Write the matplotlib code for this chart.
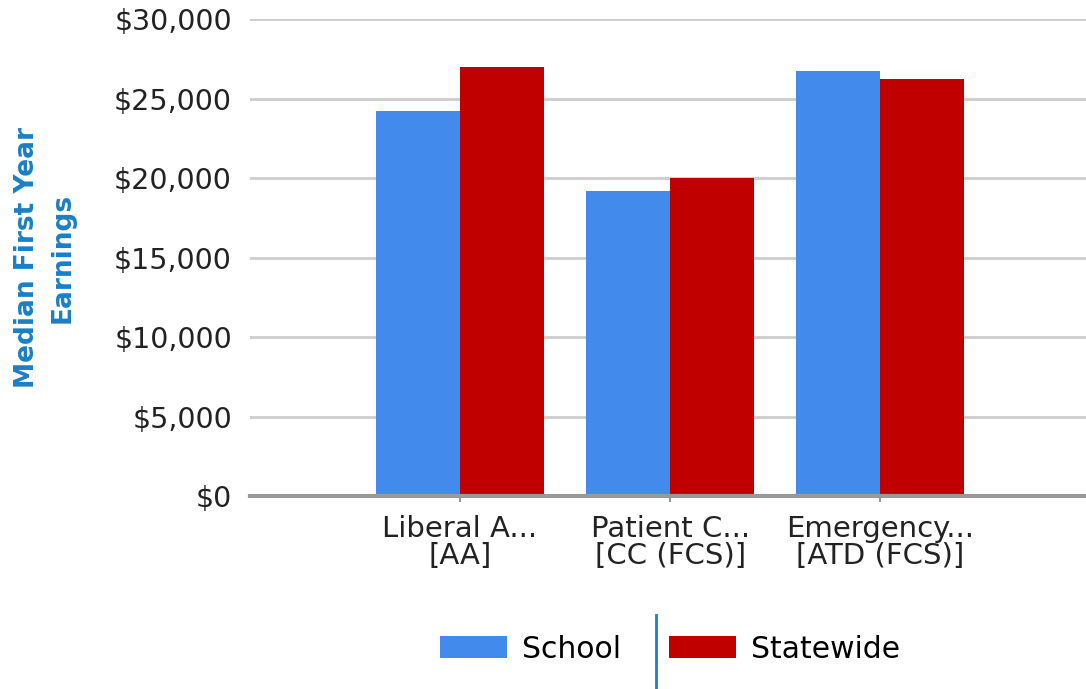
"""Median first year earnings by program, school vs statewide."""

import matplotlib

matplotlib.use("Agg")
import matplotlib.pyplot as plt
import numpy as np
from matplotlib import font_manager
from matplotlib.lines import Line2D
from matplotlib.ticker import FuncFormatter

programs = ["Liberal A...\n[AA]", "Patient C...\n[CC (FCS)]", "Emergency...\n[ATD (FCS)]"]
school = [24200, 19200, 26700]
statewide = [27000, 20000, 26200]
series_names = ["School", "Statewide"]
y_ticks = [0, 5000, 10000, 15000, 20000, 25000, 30000]

BLUE = "#428bec"
RED = "#c00000"
LABEL_BLUE = "#1a7fc6"

plt.rcParams["font.family"] = ["DejaVu Sans"]


def _narrow_font():
    # condensed bold face for the rotated axis title, if one is installed
    for fam in ["Liberation Sans Narrow", "Arial Narrow"]:
        try:
            font_manager.findfont(font_manager.FontProperties(family=fam, weight="bold"),
                                  fallback_to_default=False)
            return fam, 27, 1.1
        except ValueError:
            continue
    return "DejaVu Sans", 19, 1.45


fig = plt.figure(figsize=(10.86, 6.89), dpi=100)
ax = fig.add_axes([0.2302, 0.2801, 0.7698, 0.6923])

x = np.arange(len(programs))
w = 0.4
ax.bar(x - w / 2, school, width=w, color=BLUE, label=series_names[0], zorder=3)
ax.bar(x + w / 2, statewide, width=w, color=RED, label=series_names[1], zorder=3)

ax.set_xlim(-1.0, 2.98)
ax.set_ylim(0, 30000)
ax.set_yticks(y_ticks)
ax.yaxis.set_major_formatter(FuncFormatter(lambda v, _: f"${v:,.0f}"))
ax.grid(axis="y", color="#cccccc", linewidth=2, zorder=0)
ax.set_axisbelow(True)

for side in ["top", "right", "left"]:
    ax.spines[side].set_visible(False)
ax.spines["bottom"].set_color("#999999")
ax.spines["bottom"].set_linewidth(3)
ax.spines["bottom"].set_zorder(4)

ax.tick_params(axis="y", length=0, pad=13, labelsize=20.5, labelcolor="#222222")
ax.set_xticks(x)
ax.set_xticklabels(programs, fontsize=21, color="#222222", linespacing=0.92)
ax.tick_params(axis="x", length=4, width=1.5, color="#999999", pad=10)

fam, size, spacing = _narrow_font()
fig.text(0.0414, 0.626, "Median First Year\nEarnings", rotation=90, ha="center", va="center",
         family=fam, fontsize=size, fontweight="bold", color=LABEL_BLUE, linespacing=spacing)

fig.legend(loc="center", bbox_to_anchor=(0.617, 0.058), ncol=2, frameon=False, fontsize=21.5,
           handlelength=2.25, handleheight=0.78, handletextpad=0.5, columnspacing=1.6)
# vertical separator between legend entries
fig.add_artist(Line2D([656 / 1086, 656 / 1086], [0.0, 1 - 615 / 689], color=LABEL_BLUE, linewidth=2))

fig.savefig("out.png", dpi=100)
